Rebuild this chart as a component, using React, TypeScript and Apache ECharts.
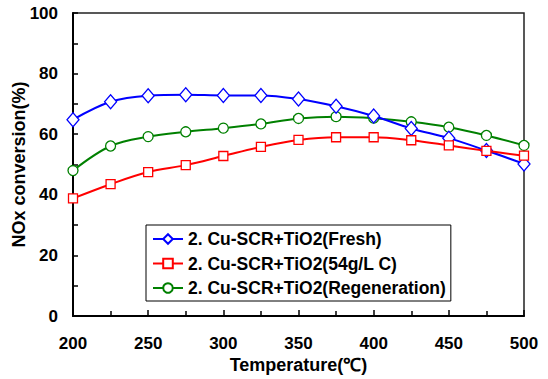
import React, { useEffect, useRef } from "react";
import * as echarts from "echarts";

const temperatures = [200, 225, 250, 275, 300, 325, 350, 375, 400, 425, 450, 475, 500];
const freshValues = [64.8, 70.7, 72.7, 73.0, 72.8, 72.8, 71.6, 69.2, 66.0, 61.9, 58.7, 54.6, 50.2];
const cokedValues = [38.8, 43.5, 47.5, 49.8, 52.8, 55.8, 58.1, 59.0, 59.0, 58.0, 56.3, 54.5, 52.9];
const regenValues = [48.0, 56.1, 59.2, 60.8, 62.0, 63.4, 65.2, 65.8, 65.3, 64.1, 62.3, 59.6, 56.3];
const seriesNames = [
  "2. Cu-SCR+TiO2(Fresh)",
  "2. Cu-SCR+TiO2(54g/L C)",
  "2. Cu-SCR+TiO2(Regeneration)",
];

const FONT = "'Liberation Sans', Arial, sans-serif";

export default function App() {
  const ref = useRef<HTMLDivElement>(null);
  useEffect(() => {
    if (!ref.current) return;
    const chart = echarts.init(ref.current, undefined, { renderer: "svg" });
    const mk = (vals: number[]) => temperatures.map((t, i) => [t, vals[i]]);
    const base = {
      type: "line",
      smooth: 0.35,
      emphasis: { disabled: true },
    };
    chart.setOption({
      animation: false,
      grid: {
        left: 73,
        top: 13,
        right: 24,
        bottom: 63,
        containLabel: false,
        outerBoundsMode: "none",
        show: true,
        borderColor: "#222",
        borderWidth: 1.5,
      },
      legend: {
        orient: "vertical",
        left: 146,
        top: 225,
        padding: [5, 5, 4, 6],
        itemWidth: 30,
        itemHeight: 12,
        itemGap: 6.5,
        borderColor: "#000",
        borderWidth: 1,
        backgroundColor: "#fff",
        textStyle: { fontFamily: FONT, fontWeight: "bold", fontSize: 17.5, color: "#000" },
        data: seriesNames,
      },
      xAxis: {
        type: "value",
        min: 200,
        max: 500,
        interval: 50,
        name: "Temperature(℃)",
        nameLocation: "middle",
        nameGap: 40,
        nameMoveOverlap: false,
        nameTextStyle: { fontFamily: FONT, fontWeight: "bold", fontSize: 18, color: "#000" },
        axisLine: { lineStyle: { color: "#000", width: 2 } },
        axisTick: { inside: true, length: 6, lineStyle: { color: "#000", width: 1.5 } },
        minorTick: { show: true, splitNumber: 2, length: 5, lineStyle: { color: "#000", width: 1.5 } },
        splitLine: { show: false },
        axisLabel: { margin: 19, fontFamily: FONT, fontWeight: "bold", fontSize: 17, color: "#000" },
      },
      yAxis: {
        type: "value",
        min: 0,
        max: 100,
        interval: 20,
        name: "NOx conversion(%)",
        nameLocation: "middle",
        nameGap: 45,
        nameMoveOverlap: false,
        nameTextStyle: { fontFamily: FONT, fontWeight: "bold", fontSize: 18, color: "#000" },
        axisLine: { show: true, lineStyle: { color: "#000", width: 2 } },
        axisTick: { show: true, inside: true, length: 5, lineStyle: { color: "#000", width: 1.5 } },
        minorTick: { show: true, splitNumber: 2, length: 5, lineStyle: { color: "#000", width: 1.5 } },
        splitLine: { show: false },
        axisLabel: { margin: 15, fontFamily: FONT, fontWeight: "bold", fontSize: 17, color: "#000" },
      },
      series: [
        {
          ...base,
          name: seriesNames[0],
          data: mk(freshValues),
          symbol: "diamond",
          symbolSize: [12, 14],
          lineStyle: { width: 2, color: "#0000ff" },
          itemStyle: { color: "#fff", borderColor: "#0000ff", borderWidth: 1.3 },
          z: 3,
        },
        {
          ...base,
          name: seriesNames[1],
          data: mk(cokedValues),
          symbol: "rect",
          symbolSize: 9,
          lineStyle: { width: 2, color: "#ff0000" },
          itemStyle: { color: "#fff", borderColor: "#ff0000", borderWidth: 1.3 },
          z: 4,
        },
        {
          ...base,
          name: seriesNames[2],
          data: mk(regenValues),
          symbol: "circle",
          symbolSize: 10,
          lineStyle: { width: 2, color: "#008000" },
          itemStyle: { color: "#fff", borderColor: "#008000", borderWidth: 1.3 },
          z: 2,
        },
      ],
    });
    return () => chart.dispose();
  }, []);
  return <div ref={ref} style={{ width: 548, height: 379, position: "absolute", left: 0, top: 0 }} />;
}
